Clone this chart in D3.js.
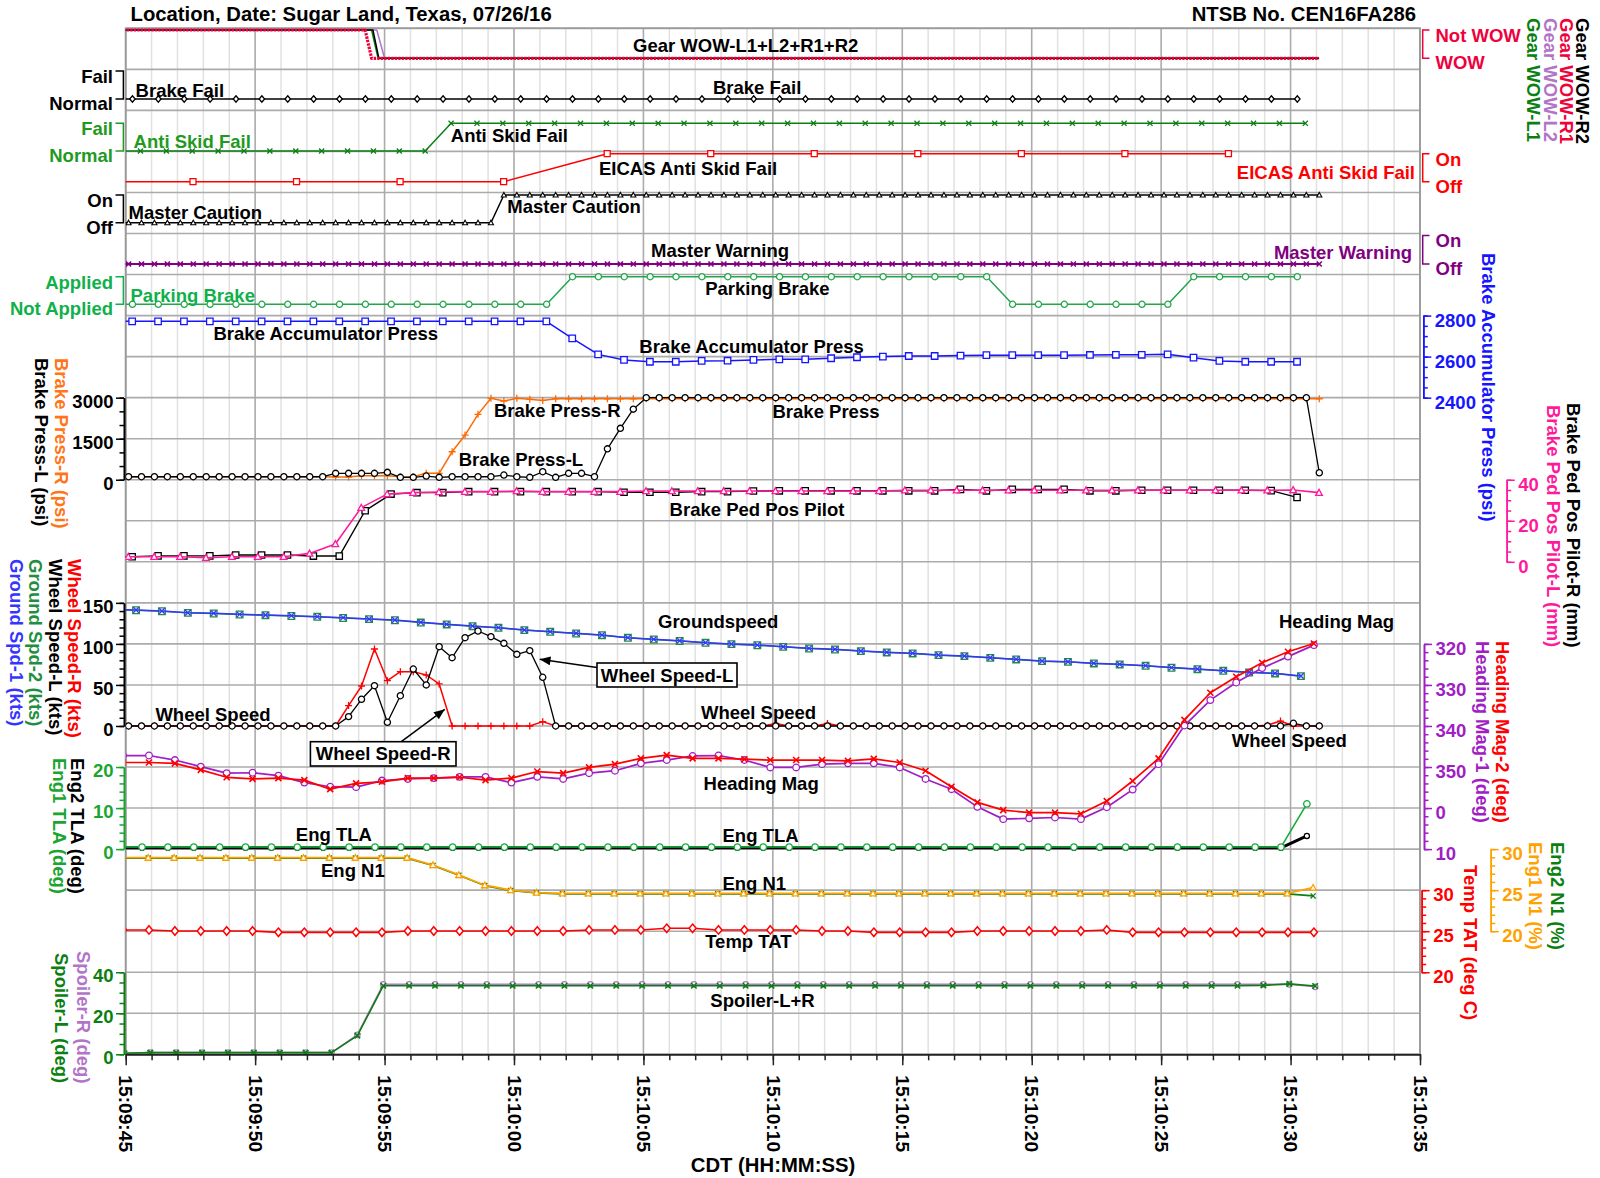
<!DOCTYPE html>
<html>
<head>
<meta charset="utf-8">
<script src="https://cdn.jsdelivr.net/npm/d3@7"></script>
<style>
  html, body { margin: 0; padding: 0; background: #fff; }
  svg { display: block; font-family: "Liberation Sans", Arial, sans-serif; font-weight: bold; font-size: 18.5px; }
</style>
</head>
<body>
<svg id="chart" width="1600" height="1178"></svg>
<script>
// ------------------------------------------------------------------
// Recorded parameters. Times are seconds after 15:09:45 CDT.
// Each sampled series: first sample time, sample interval, values.
// ------------------------------------------------------------------

// Gear weight-on-wheels (1 = Not WOW, 0 = WOW), change points [t, value]
const gearWowL1 = [[-0.5, 1], [9.5, 1], [9.75, 0], [46.1, 0]];
const gearWowL2 = [[-0.5, 1], [9.7, 1], [10.0, 0], [46.1, 0]];
const gearWowR1 = [[-0.5, 1], [9.25, 1], [9.5, 0], [46.1, 0]];
const gearWowR2 = [[-0.5, 1], [9.55, 1], [9.78, 0], [46.1, 0]];

// Brake Fail (1 = Fail), 1 Hz
const brakeFailStart = -0.74;
const brakeFail = [0,0,0,0,0,0,0,0,0,0, 0,0,0,0,0,0,0,0,0,0, 0,0,0,0,0,0,0,0,0,0,
                   0,0,0,0,0,0,0,0,0,0, 0,0,0,0,0,0,0];

// Anti Skid Fail (1 = Fail), 1 Hz
const antiSkidStart = -0.43;
const antiSkidFail = [0,0,0,0,0,0,0,0,0,0, 0,0,0,1,1,1,1,1,1,1, 1,1,1,1,1,1,1,1,1,1,
                      1,1,1,1,1,1,1,1,1,1, 1,1,1,1,1,1,1];

// EICAS Anti Skid Fail (1 = On), every 4 s
const eicasStart = -1.4;
const eicasAntiSkidFail = [0,0,0,0,0,1,1,1,1,1,1,1];

// Master Caution (1 = On), 2 Hz
const cautionStart = -0.39;
const masterCaution = [0,0,0,0,0,0,0,0,0,0, 0,0,0,0,0,0,0,0,0,0, 0,0,0,0,0,0,0,0,0,0,
                       1,1,1,1,1,1,1,1,1,1, 1,1,1,1,1,1,1,1,1,1, 1,1,1,1,1,1,1,1,1,1,
                       1,1,1,1,1,1,1,1,1,1, 1,1,1,1,1,1,1,1,1,1, 1,1,1,1,1,1,1,1,1,1,
                       1,1,1,1];

// Master Warning (1 = On), 2 Hz
const warningStart = -0.39;
const masterWarning = [0,0,0,0,0,0,0,0,0,0, 0,0,0,0,0,0,0,0,0,0, 0,0,0,0,0,0,0,0,0,0,
                       0,0,0,0,0,0,0,0,0,0, 0,0,0,0,0,0,0,0,0,0, 0,0,0,0,0,0,0,0,0,0,
                       0,0,0,0,0,0,0,0,0,0, 0,0,0,0,0,0,0,0,0,0, 0,0,0,0,0,0,0,0,0,0,
                       0,0,0,0];

// Parking Brake (1 = Applied), 1 Hz
const parkingStart = -0.74;
const parkingBrake = [0,0,0,0,0,0,0,0,0,0, 0,0,0,0,0,0,0,0,1,1, 1,1,1,1,1,1,1,1,1,1,
                      1,1,1,1,1,0,0,0,0,0, 0,0,1,1,1,1,1];

// Brake Accumulator Press (psi), 1 Hz
const accumStart = -0.75;
const brakeAccumPress = [2772,2772,2772,2772,2772,2772,2772,2772,2772,2772,
                         2772,2772,2772,2772,2772,2772,2772,2772,2689,2611,
                         2584,2575,2575,2579,2580,2584,2587,2587,2592,2597,
                         2600,2603,2603,2605,2607,2607,2607,2607,2608,2609,
                         2609,2611,2595,2579,2575,2575,2575];

// Brake Press L / R (psi), 2 Hz
const brakePressStart = -0.39;
const brakePressL = [110,110,110,110,110,110,110,110,110,110,
                     110,110,110,110,110,110,110,234,234,234,
                     234,270,88,88,135,88,110,110,110,110,
                     172,110,88,293,88,234,234,110,1130,1878,
                     2580,3000,3000,3000,3000,3000,3000,3000,3000,3000,
                     3000,3000,3000,3000,3000,3000,3000,3000,3000,3000,
                     3000,3000,3000,3000,3000,3000,3000,3000,3000,3000,
                     3000,3000,3000,3000,3000,3000,3000,3000,3000,3000,
                     3000,3000,3000,3000,3000,3000,3000,3000,3000,3000,
                     3000,3000,3000,256];
const brakePressR = [110,110,110,110,110,110,110,110,110,110,
                     110,110,110,110,110,110,110,100,100,150,
                     150,150,110,110,234,234,1023,1634,2390,2975,
                     2876,2975,2940,2900,2960,2960,2960,2960,2960,2960,
                     2960,2960,2960,2960,2960,2960,2960,2960,2960,2960,
                     2960,2960,2960,2960,2960,2960,2960,2960,2960,2960,
                     2960,2960,2960,2960,2960,2960,2960,2960,2960,2960,
                     2960,2960,2960,2960,2960,2960,2960,2960,2960,2960,
                     2960,2960,2960,2960,2960,2960,2960,2960,2960,2960,
                     2960,2960,2960,2960];

// Brake Pedal Position Pilot R / L (mm), 1 Hz
const pedRStart = -0.75;
const brakePedPilotR = [2.5,2.5,2.9,2.9,2.9,3.3,3.3,3.3,2.8,2.8,
                        24.9,33.0,33.7,33.7,34.2,34.2,34.2,34.2,34.2,34.2,
                        33.9,33.9,33.9,34.2,34.2,34.5,34.6,34.6,34.6,34.6,
                        34.6,34.6,34.6,35.3,34.6,35.3,35.3,35.3,34.6,34.6,
                        34.9,34.9,34.9,34.9,34.9,34.7,31.4];
const pedLStart = -0.9;
const brakePedPilotL = [2.5,2.5,2.5,2.5,2.0,2.5,2.5,2.5,4.1,8.7,
                        26.4,33.0,33.7,34.0,34.2,34.2,34.5,34.2,34.2,34.2,
                        34.2,34.5,34.5,34.5,34.5,34.5,34.5,34.5,34.5,34.5,
                        34.5,34.9,34.9,34.9,34.9,34.9,34.9,34.9,34.9,34.9,
                        34.9,34.9,34.9,34.9,34.9,34.9,35.0,33.7];

// Ground speed 1 / 2 (kts), 1 Hz
const groundStart = -0.6;
const groundSpd1 = [142.3,141.3,140.1,138.0,137.3,136.0,135.2,134.4,133.2,132.0,
                    130.4,129.1,126.3,123.9,121.8,119.8,117.0,114.9,112.9,110.9,
                    107.6,105.6,103.9,101.5,99.9,98.7,96.6,94.6,93.4,91.4,
                    89.8,88.6,86.5,85.3,83.2,81.3,79.2,78.3,76.4,75.2,
                    73.5,71.1,69.4,67.4,65.4,64.2,60.9];
const groundSpd2 = [142.0,141.0,139.8,137.8,137.0,135.8,135.0,134.0,133.0,131.6,
                    130.2,128.8,126.0,123.7,121.6,119.6,116.8,114.7,112.7,110.6,
                    107.4,105.4,103.6,101.3,99.7,98.4,96.4,94.4,93.2,91.2,
                    89.6,88.4,86.3,85.1,83.0,81.1,79.0,78.1,76.2,75.0,
                    73.3,70.9,69.2,67.2,65.2,64.0,60.7];

// Wheel speed L / R (kts), 2 Hz
const wheelStart = -0.39;
const wheelSpeedL = [0,0,0,0,0,0,0,0,0,0,
                     0,0,0,0,0,0,0,0,11.4,32.5,
                     49.1,4.5,36.9,69.4,50.0,96.6,83.2,107.6,115.7,108.8,
                     100.7,87.3,91.8,59.3,0,0,0,0,0,0,
                     0,0,0,0,0,0,0,0,0,0, 0,0,0,0,0,0,0,0,0,0,
                     0,0,0,0,0,0,0,0,0,0, 0,0,0,0,0,0,0,0,0,0,
                     0,0,0,0,0,0,0,0,0,0,
                     0,3.3,0,0];
const wheelSpeedR = [0,0,0,0,0,0,0,0,0,0,
                     0,0,0,0,0,0,0,0,24.8,48.7,
                     93.8,55.2,66.2,66.2,62.1,51.2,0,0,0,0,
                     0,0,0,5.3,0,0,0,0,0,0,
                     0,0,0,0,0,0,0,0,0,0,
                     0,3.0,0,0,0,3.0,0,0,0,0,
                     0,0,0,0,0,0,0,0,0,0,
                     0,0,0,0,0,0,0,0,0,0,
                     0,0,0,0,0,0,0,0,0,1.0,
                     6.0,0,0,0];

// Magnetic heading 1 / 2 (deg), 1 Hz
const headingStart = -0.1;
const headingMag1 = [347.2,347.2,348.3,349.9,351.5,351.4,352.1,353.8,354.8,354.9,
                     353.3,352.9,352.7,352.4,352.4,353.8,352.4,352.9,351.5,350.9,
                     349.1,348.3,347.3,347.2,348.3,350.1,350.1,349.3,349.1,349.1,
                     350.1,352.9,355.4,359.7,2.7,2.5,2.3,2.7,359.8,355.5,
                     349.3,339.9,333.7,329.4,325.9,323.1,320.3];
const headingMag2 = [348.9,348.9,349.1,350.7,352.5,352.9,352.7,353.2,355.4,354.0,
                     353.6,352.7,352.7,352.5,353.2,352.7,351.1,351.5,350.1,349.3,
                     347.9,347.1,347.9,347.9,348.1,348.3,348.3,348.3,348.5,348.0,
                     348.9,350.9,354.8,358.6,0.5,1.1,1.1,1.4,358.3,353.4,
                     347.9,338.5,331.9,328.0,324.6,321.9,319.9];

// Engine throttle lever angle (deg), 1 Hz
const tlaStart = -0.37;
const eng1TLA = [0.5,0.5,0.5,0.5,0.5,0.5,0.5,0.5,0.5,0.5, 0.5,0.5,0.5,0.5,0.5,0.5,0.5,0.5,0.5,0.5,
                 0.5,0.5,0.5,0.5,0.5,0.5,0.5,0.5,0.5,0.5, 0.5,0.5,0.5,0.5,0.5,0.5,0.5,0.5,0.5,0.5,
                 0.5,0.5,0.5,0.5,0.5,0.5,11.0];
const eng2TLA = [0.3,0.3,0.3,0.3,0.3,0.3,0.3,0.3,0.3,0.3, 0.3,0.3,0.3,0.3,0.3,0.3,0.3,0.3,0.3,0.3,
                 0.3,0.3,0.3,0.3,0.3,0.3,0.3,0.3,0.3,0.3, 0.3,0.3,0.3,0.3,0.3,0.3,0.3,0.3,0.3,0.3,
                 0.3,0.3,0.3,0.3,0.3,0.3,3.2];

// Engine N1 (%), 1 Hz
const n1Start = -0.13;
const eng1N1 = [28.95,28.95,28.95,28.95,28.95,28.95,28.95,28.95,28.95,28.95,
                28.95,28.95,28.06,26.85,25.6,25.0,24.7,24.6,24.6,24.6,
                24.6,24.6,24.6,24.6,24.6,24.6,24.6,24.6,24.6,24.6,
                24.6,24.6,24.6,24.6,24.6,24.6,24.6,24.6,24.6,24.6,
                24.6,24.6,24.6,24.6,24.6,24.6,25.3];
const eng2N1 = [28.9,28.9,28.9,28.9,28.9,28.9,28.9,28.9,28.9,28.9,
                28.9,28.9,28.0,26.8,25.55,24.95,24.65,24.55,24.55,24.55,
                24.55,24.55,24.55,24.55,24.55,24.55,24.55,24.55,24.55,24.55,
                24.55,24.55,24.55,24.55,24.55,24.55,24.55,24.55,24.55,24.55,
                24.55,24.55,24.55,24.55,24.55,24.55,24.3];

// Total air temperature (deg C), 1 Hz
const tatStart = -0.1;
const tempTAT = [25.15,25.15,25.02,25.02,25.02,25.02,24.86,24.86,24.86,24.86,
                 24.86,25.02,25.02,25.02,25.02,25.02,25.02,25.02,25.15,25.15,
                 25.15,25.35,25.35,25.15,25.15,25.15,25.15,25.02,25.02,24.86,
                 24.86,24.86,24.86,25.02,25.02,25.02,25.02,25.02,25.15,24.86,
                 24.86,24.86,24.86,24.86,24.86,24.86,24.86];

// Spoiler L / R (deg), 1 Hz
const spoilerStart = -0.05;
const spoilerL = [0.5,0.8,0.8,0.8,0.8,0.8,0.8,0.8,0.8,9.1,
                  33.4,33.4,33.4,33.4,33.4,33.4,33.4,33.4,33.4,33.4,
                  33.4,33.4,33.4,33.4,33.4,33.4,33.4,33.4,33.4,33.4,
                  33.4,33.4,33.4,33.4,33.4,33.4,33.4,33.4,33.4,33.4,
                  33.4,33.4,33.4,33.4,33.6,34.3,33.3];
const spoilerR = [0.5,0.8,0.8,0.8,0.8,0.8,0.8,0.8,0.8,9.5,
                  34.1,34.1,34.1,34.1,34.1,34.1,34.1,34.1,34.1,34.1,
                  34.1,34.1,34.1,34.1,34.1,34.1,34.1,34.1,34.1,34.1,
                  34.1,34.1,34.1,34.1,34.1,34.1,34.1,34.1,34.1,34.1,
                  34.1,34.1,34.1,34.1,34.1,34.1,32.9];

// Axis tick values
const brakePressTicks = [0, 1500, 3000];
const accumTicks = [2400, 2600, 2800];
const pedTicks = [0, 20, 40];
const speedTicks = [0, 50, 100, 150];
const headingTicks = [320, 330, 340, 350, 360, 370];
const tlaTicks = [0, 10, 20];
const n1Ticks = [20, 25, 30];
const tatTicks = [20, 25, 30];
const spoilerTicks = [0, 20, 40];

// ------------------------------------------------------------------
// Layout
// ------------------------------------------------------------------
const svg = d3.select("#chart");
const plotL = 125.7, plotR = 1420, plotT = 28.3, rowH = 41.04, nRows = 25;
const plotB = plotT + rowH * nRows;
const row = i => plotT + i * rowH;

const tStart = new Date(2016, 6, 26, 15, 9, 45);
const tEnd = new Date(2016, 6, 26, 15, 10, 35);
const x = d3.scaleTime().domain([tStart, tEnd]).range([plotL, plotR]);
const toDate = s => new Date(tStart.getTime() + s * 1000);
const xs = s => x(toDate(s));

const sampled = (start, step, values) => values.map((v, i) => ({ t: start + i * step, v }));
const points = pairs => pairs.map(([t, v]) => ({ t, v }));

// Vertical scales for each strip
const yWow = d3.scaleLinear([0, 1], [58.3, 30]);
const yBrakeFail = d3.scaleLinear([0, 1], [99, 71]);
const yAntiSkid = d3.scaleLinear([0, 1], [151, 123.3]);
const yEicas = d3.scaleLinear([0, 1], [181.7, 153.7]);
const yCaution = d3.scaleLinear([0, 1], [222.7, 195]);
const yWarning = d3.scaleLinear([0, 1], [264, 235.5]);
const yParking = d3.scaleLinear([0, 1], [304.3, 276.7]);
const yBrakePress = d3.scaleLinear([0, 3000], [row(11), row(9)]);
const yAccum = d3.scaleLinear([2400, 2800], [row(9), row(7)]);
const yPed = d3.scaleLinear([0, 40], [row(13), row(11)]);
const ySpeed = d3.scaleLinear([0, 150], [row(17), row(14)]);
const yHeadingLin = d3.scaleLinear([320, 370], [row(15), row(20)]);
const yHeading = h => yHeadingLin(h < 180 ? h + 360 : h);
const yTLA = d3.scaleLinear([0, 20], [row(20), row(18)]);
const yN1 = d3.scaleLinear([20, 30], [row(22), row(20)]);
const yTAT = d3.scaleLinear([20, 30], [row(23), row(21)]);
const ySpoiler = d3.scaleLinear([0, 40], [row(25), row(23)]);

// Colours
const C = {
  black: "#000", red: "#ff0000", crimson: "#f0003c", lavender: "#b274c8",
  green: "#0b7f12", brightGreen: "#14ad3c", parkGreen: "#24a64c",
  purple: "#800080", blue: "#1515ff", blue2: "#3535ff", orange: "#ff6a00",
  pink: "#ff1a9c", violet: "#a01ec4", amber: "#ffa200", lightGreen: "#1aa530",
  gndGreen: "#1f8f3f"
};

// ------------------------------------------------------------------
// Grid
// ------------------------------------------------------------------
const grid = svg.append("g");
const secTicks = x.ticks(d3.timeSecond.every(1));
const isMajor = d => d.getSeconds() % 5 === 0;
grid.selectAll("line.vmin").data(secTicks.filter(d => !isMajor(d))).join("line")
  .attr("x1", d => x(d)).attr("x2", d => x(d)).attr("y1", plotT).attr("y2", plotB)
  .attr("stroke", "#e1e1e1").attr("stroke-width", 1.5);
grid.selectAll("line.hrow").data(d3.range(0, nRows + 1)).join("line")
  .attr("x1", plotL).attr("x2", plotR).attr("y1", d => row(d)).attr("y2", d => row(d))
  .attr("stroke", "#ababab").attr("stroke-width", 1.6);
grid.selectAll("line.vmaj").data(secTicks.filter(isMajor)).join("line")
  .attr("x1", d => x(d)).attr("x2", d => x(d)).attr("y1", plotT).attr("y2", plotB)
  .attr("stroke", "#ababab").attr("stroke-width", 1.6);
grid.append("rect").attr("x", plotL).attr("y", plotT).attr("width", plotR - plotL).attr("height", plotB - plotT)
  .attr("fill", "none").attr("stroke", "#9a9a9a").attr("stroke-width", 1.8);

svg.append("defs").append("clipPath").attr("id", "plotClip")
  .append("rect").attr("x", plotL).attr("y", plotT - 4).attr("width", plotR - plotL).attr("height", plotB - plotT + 4);

// ------------------------------------------------------------------
// Marker shapes (size = (2r)^2)
// ------------------------------------------------------------------
const sym = {
  circle:   { draw(c, s) { const r = Math.sqrt(s) / 2; c.moveTo(r, 0); c.arc(0, 0, r, 0, 2 * Math.PI); } },
  square:   { draw(c, s) { const r = Math.sqrt(s) / 2; c.rect(-r, -r, 2 * r, 2 * r); } },
  triangle: { draw(c, s) { const r = Math.sqrt(s) / 2; c.moveTo(0, -r); c.lineTo(r, r * 0.8); c.lineTo(-r, r * 0.8); c.closePath(); } },
  diamond:  { draw(c, s) { const r = Math.sqrt(s) / 2; c.moveTo(0, -r * 1.2); c.lineTo(r, 0); c.lineTo(0, r * 1.2); c.lineTo(-r, 0); c.closePath(); } },
  cross:    { stroked: true, draw(c, s) { const r = Math.sqrt(s) / 2; c.moveTo(-r, -r); c.lineTo(r, r); c.moveTo(r, -r); c.lineTo(-r, r); } },
  plus:     { stroked: true, draw(c, s) { const r = Math.sqrt(s) / 2; c.moveTo(-r, 0); c.lineTo(r, 0); c.moveTo(0, -r); c.lineTo(0, r); } }
};

const plotArea = svg.append("g").attr("clip-path", "url(#plotClip)");

function drawSeries({ data, y, color, width = 1.5, symbol, size = 40, markerColor, dash, markerWidth = 1.3 }) {
  const g = plotArea.append("g");
  const line = d3.line().x(d => xs(d.t)).y(d => y(d.v));
  g.append("path").attr("d", line(data)).attr("fill", "none")
    .attr("stroke", color).attr("stroke-width", width)
    .attr("stroke-linejoin", "round").attr("stroke-dasharray", dash || null);
  if (symbol) {
    g.selectAll("path.mk").data(data).join("path").attr("class", "mk")
      .attr("transform", d => `translate(${xs(d.t)},${y(d.v)})`)
      .attr("d", d3.symbol().type(symbol).size(size))
      .attr("fill", symbol.stroked ? "none" : "#fff")
      .attr("stroke", markerColor || color).attr("stroke-width", markerWidth);
  }
}

// Gear WOW
drawSeries({ data: points(gearWowL1), y: yWow, color: C.green, width: 1.5 });
drawSeries({ data: points(gearWowL2), y: yWow, color: C.lavender, width: 1.5 });
drawSeries({ data: points(gearWowR2), y: yWow, color: C.black, width: 1.5 });
drawSeries({ data: points(gearWowR1), y: yWow, color: C.crimson, width: 3.2, dash: "2.4 1.1" });

// Discrete warnings
drawSeries({ data: sampled(brakeFailStart, 1, brakeFail), y: yBrakeFail, color: C.black, symbol: sym.diamond, size: 30 });
drawSeries({ data: sampled(antiSkidStart, 1, antiSkidFail), y: yAntiSkid, color: C.green, symbol: sym.cross, size: 26 });
drawSeries({ data: sampled(eicasStart, 4, eicasAntiSkidFail), y: yEicas, color: C.red, symbol: sym.square, size: 36 });
drawSeries({ data: sampled(cautionStart, 0.5, masterCaution), y: yCaution, color: C.black, symbol: sym.triangle, size: 26, markerWidth: 1.1 });
drawSeries({ data: sampled(warningStart, 0.5, masterWarning), y: yWarning, color: C.purple, width: 2, symbol: sym.cross, size: 26, markerWidth: 1.6 });
drawSeries({ data: sampled(parkingStart, 1, parkingBrake), y: yParking, color: C.parkGreen, symbol: sym.circle, size: 38 });

// Brake accumulator & brake pressures
drawSeries({ data: sampled(accumStart, 1, brakeAccumPress), y: yAccum, color: C.blue, symbol: sym.square, size: 42 });
drawSeries({ data: sampled(brakePressStart, 0.5, brakePressR), y: yBrakePress, color: C.orange, symbol: sym.plus, size: 49 });
drawSeries({ data: sampled(brakePressStart, 0.5, brakePressL), y: yBrakePress, color: C.black, width: 1.3, symbol: sym.circle, size: 38 });

// Brake pedal positions
drawSeries({ data: sampled(pedRStart, 1, brakePedPilotR), y: yPed, color: C.black, width: 1.4, symbol: sym.square, size: 40 });
drawSeries({ data: sampled(pedLStart, 1, brakePedPilotL), y: yPed, color: C.pink, width: 1.6, symbol: sym.triangle, size: 44 });

// Ground speeds and wheel speeds
drawSeries({ data: sampled(groundStart, 1, groundSpd2), y: ySpeed, color: C.gndGreen, symbol: sym.square, size: 44 });
drawSeries({ data: sampled(groundStart, 1, groundSpd1), y: ySpeed, color: C.blue2, symbol: sym.cross, size: 30 });
drawSeries({ data: sampled(wheelStart, 0.5, wheelSpeedR), y: ySpeed, color: C.red, symbol: sym.plus, size: 49 });
drawSeries({ data: sampled(wheelStart, 0.5, wheelSpeedL), y: ySpeed, color: C.black, width: 1.3, symbol: sym.circle, size: 38 });

// Heading
drawSeries({ data: sampled(headingStart, 1, headingMag1), y: yHeading, color: C.violet, width: 1.7, symbol: sym.circle, size: 44 });
drawSeries({ data: sampled(headingStart, 1, headingMag2), y: yHeading, color: C.red, width: 1.7, symbol: sym.cross, size: 36, markerWidth: 1.6 });

// Throttle lever angle
drawSeries({ data: sampled(tlaStart, 1, eng2TLA), y: yTLA, color: C.black, width: 3, symbol: sym.circle, size: 26 });
drawSeries({ data: sampled(tlaStart, 1, eng1TLA), y: yTLA, color: C.brightGreen, width: 1.6, symbol: sym.circle, size: 42 });

// N1
drawSeries({ data: sampled(n1Start, 1, eng2N1), y: yN1, color: C.green, width: 1.6, symbol: sym.cross, size: 26 });
drawSeries({ data: sampled(n1Start, 1, eng1N1), y: yN1, color: C.amber, width: 1.8, symbol: sym.triangle, size: 40 });

// Temperature
drawSeries({ data: sampled(tatStart, 1, tempTAT), y: yTAT, color: C.red, width: 1.6, symbol: sym.diamond, size: 50, markerWidth: 1.5 });

// Spoilers
drawSeries({ data: sampled(spoilerStart, 1, spoilerR), y: ySpoiler, color: C.lavender, width: 1.6, symbol: sym.circle, size: 30 });
drawSeries({ data: sampled(spoilerStart, 1, spoilerL), y: ySpoiler, color: C.green, width: 1.6, symbol: sym.cross, size: 30, markerWidth: 1.6 });

// ------------------------------------------------------------------
// Axes
// ------------------------------------------------------------------
function styleAxis(g, color) {
  g.attr("font-family", null).attr("font-size", null);
  g.select(".domain").attr("stroke", color).attr("stroke-width", 1.6);
  g.selectAll(".tick line").attr("stroke", color).attr("stroke-width", 1.5);
}
function numericAxis(side, scale, x0, majors, minorStep, color, fmt = d => d) {
  const [lo, hi] = d3.extent(majors);
  const minors = d3.range(lo, hi + minorStep / 2, minorStep);
  const make = side === "left" ? d3.axisLeft : d3.axisRight;
  const gMin = svg.append("g").attr("transform", `translate(${x0},0)`)
    .call(make(scale).tickValues(minors).tickSize(4.5).tickSizeOuter(0).tickFormat(""));
  styleAxis(gMin, color);
  const gMaj = svg.append("g").attr("transform", `translate(${x0},0)`)
    .call(make(scale).tickValues(majors).tickSize(8).tickSizeOuter(0).tickFormat(""));
  styleAxis(gMaj, color);
  svg.append("g").selectAll("text").data(majors).join("text")
    .attr("x", side === "left" ? x0 - 10.5 : x0 + 11.5)
    .attr("y", d => scale(d) + (side === "left" ? 10 : 11))
    .attr("text-anchor", side === "left" ? "end" : "start")
    .attr("fill", color).text(fmt);
}
numericAxis("left", yBrakePress, 124, brakePressTicks, 500, C.black);
numericAxis("left", ySpeed, 124, speedTicks, 10, C.black);
numericAxis("left", yTLA, 124, tlaTicks, 2, C.lightGreen);
numericAxis("left", ySpoiler, 124, spoilerTicks, 5, C.green);
numericAxis("right", yAccum, 1423.3, accumTicks, 50, C.blue);
numericAxis("right", yPed, 1506.7, pedTicks, 5, C.pink);
numericAxis("right", yHeadingLin, 1424, headingTicks, 2, C.violet, d => d % 360);
numericAxis("right", yN1, 1490.7, n1Ticks, 1, C.amber);
numericAxis("right", yTAT, 1421.7, tatTicks, 1, C.red);

// Discrete state brackets
function stateBracket(side, scale, onText, offText, color) {
  const yOn = scale(1), yOff = scale(0);
  const xa = side === "left" ? 123.4 : 1422.7;
  const xb = side === "left" ? 115.5 : 1429.5;
  svg.append("path").attr("d", `M${xb},${yOn}H${xa}V${yOff}H${xb}`)
    .attr("fill", "none").attr("stroke", color).attr("stroke-width", 1.5);
  const tx = side === "left" ? 113 : 1435.5;
  const anchor = side === "left" ? "end" : "start";
  svg.append("text").attr("x", tx).attr("y", yOn + 11.8).attr("text-anchor", anchor).attr("fill", color).text(onText);
  svg.append("text").attr("x", tx).attr("y", yOff + 10.8).attr("text-anchor", anchor).attr("fill", color).text(offText);
}
stateBracket("left", yBrakeFail, "Fail", "Normal", C.black);
stateBracket("left", yAntiSkid, "Fail", "Normal", "#1f9a1f");
stateBracket("left", yCaution, "On", "Off", C.black);
stateBracket("left", yParking, "Applied", "Not Applied", "#10b04a");
stateBracket("right", yWow, "Not WOW", "WOW", C.crimson);
stateBracket("right", yEicas, "On", "Off", C.red);
stateBracket("right", yWarning, "On", "Off", C.purple);

// Time axis
const gxMin = svg.append("g").attr("transform", `translate(0,${plotB})`)
  .call(d3.axisBottom(x).ticks(d3.timeSecond.every(1)).tickSize(6).tickSizeOuter(0).tickFormat(""));
styleAxis(gxMin, "#222");
const gxMaj = svg.append("g").attr("transform", `translate(0,${plotB})`)
  .call(d3.axisBottom(x).ticks(d3.timeSecond.every(5)).tickSize(11).tickSizeOuter(0).tickFormat(d3.timeFormat("%H:%M:%S")));
styleAxis(gxMaj, "#222");
gxMaj.selectAll(".tick text")
  .attr("transform", "rotate(90)").attr("x", 21).attr("y", 0).attr("dy", "0.35em")
  .attr("text-anchor", "start").attr("fill", C.black).style("font-size", "19.2px");
svg.append("text").attr("x", 773).attr("y", 1172).attr("text-anchor", "middle")
  .style("font-size", "20.3px").text("CDT (HH:MM:SS)");

// ------------------------------------------------------------------
// Titles and rotated axis titles
// ------------------------------------------------------------------
svg.append("text").attr("x", 130.5).attr("y", 20.7).style("font-size", "20.3px")
  .text("Location, Date: Sugar Land, Texas, 07/26/16");
svg.append("text").attr("x", 1416).attr("y", 20.7).attr("text-anchor", "end").style("font-size", "20.3px")
  .text("NTSB No. CEN16FA286");

const vTitles = [
  ["Gear WOW-R2", 1582, 18, C.black],
  ["Gear WOW-R1", 1566, 18, C.crimson],
  ["Gear WOW-L2", 1550, 18, C.lavender],
  ["Gear WOW-L1", 1533, 18, C.green],
  ["Brake Accumulator Press (psi)", 1488, 253, C.blue],
  ["Brake Ped Pos Pilot-R (mm)", 1573, 403, C.black],
  ["Brake Ped Pos Pilot-L (mm)", 1553, 405, C.pink],
  ["Heading Mag-2 (deg)", 1502, 641, C.red],
  ["Heading Mag-1 (deg)", 1482, 641, C.violet],
  ["Eng2 N1 (%)", 1557, 842, C.green],
  ["Eng1 N1 (%)", 1535, 842, C.amber],
  ["Temp TAT (deg C)", 1470, 865, C.red],
  ["Brake Press-R (psi)", 61.3, 358, "#ff7518"],
  ["Brake Press-L (psi)", 41.5, 358, C.black],
  ["Wheel Speed-R (kts)", 74, 559, C.red],
  ["Wheel Speed-L (kts)", 55, 559, C.black],
  ["Ground Spd-2 (kts)", 35, 559, C.gndGreen],
  ["Ground Spd-1 (kts)", 16, 559, C.blue2],
  ["Eng2 TLA (deg)", 77, 758, C.black],
  ["Eng1 TLA (deg)", 59.3, 758, C.lightGreen],
  ["Spoiler-R (deg)", 83, 951, C.lavender],
  ["Spoiler-L (deg)", 61.3, 953, C.green]
];
svg.append("g").selectAll("text").data(vTitles).join("text")
  .attr("transform", d => `translate(${d[1]},${d[2]}) rotate(90)`)
  .attr("dy", "0.35em").attr("fill", d => d[3]).text(d => d[0]);

// ------------------------------------------------------------------
// In-plot parameter labels [text, x, baseline, colour, anchor]
// ------------------------------------------------------------------
const plotLabels = [
  ["Gear WOW-L1+L2+R1+R2", 633, 51.5, C.black, "start"],
  ["Brake Fail", 135.6, 96.5, C.black, "start"],
  ["Brake Fail", 712.9, 93.8, C.black, "start"],
  ["Anti Skid Fail", 133.6, 148, "#1f9a1f", "start"],
  ["Anti Skid Fail", 450.8, 141.5, C.black, "start"],
  ["EICAS Anti Skid Fail", 599, 174.8, C.black, "start"],
  ["EICAS Anti Skid Fail", 1415, 178.8, C.red, "end"],
  ["Master Caution", 128.5, 218.8, C.black, "start"],
  ["Master Caution", 507.3, 213.2, C.black, "start"],
  ["Master Warning", 651, 257.2, C.black, "start"],
  ["Master Warning", 1412, 258.8, C.purple, "end"],
  ["Parking Brake", 130.5, 302.2, "#10b04a", "start"],
  ["Parking Brake", 705.2, 294.8, C.black, "start"],
  ["Brake Accumulator Press", 213.5, 339.8, C.black, "start"],
  ["Brake Accumulator Press", 639.3, 352.5, C.black, "start"],
  ["Brake Press-R", 494, 416.7, C.black, "start"],
  ["Brake Press-L", 458.7, 466, C.black, "start"],
  ["Brake Press", 772.5, 418.3, C.black, "start"],
  ["Brake Ped Pos Pilot", 669.6, 515.7, C.black, "start"],
  ["Groundspeed", 658, 628.3, C.black, "start"],
  ["Heading Mag", 1279, 628.3, C.black, "start"],
  ["Wheel Speed", 155.4, 720.7, C.black, "start"],
  ["Wheel Speed", 701, 719, C.black, "start"],
  ["Wheel Speed", 1231.7, 747.3, C.black, "start"],
  ["Heading Mag", 703.6, 790, C.black, "start"],
  ["Eng TLA", 295.8, 840.7, C.black, "start"],
  ["Eng TLA", 722.5, 841.7, C.black, "start"],
  ["Eng N1", 321, 877.3, C.black, "start"],
  ["Eng N1", 722.4, 890, C.black, "start"],
  ["Temp TAT", 705.2, 948.3, C.black, "start"],
  ["Spoiler-L+R", 710.3, 1007.3, C.black, "start"]
];
svg.append("g").selectAll("text").data(plotLabels).join("text")
  .attr("x", d => d[1]).attr("y", d => d[2]).attr("fill", d => d[3])
  .attr("text-anchor", d => d[4]).text(d => d[0]);

// ------------------------------------------------------------------
// Boxed call-outs with arrows
// ------------------------------------------------------------------
svg.select("defs").append("marker").attr("id", "arrowHead")
  .attr("viewBox", "0 0 12 10").attr("refX", 12).attr("refY", 5)
  .attr("markerWidth", 12).attr("markerHeight", 9).attr("markerUnits", "userSpaceOnUse")
  .attr("orient", "auto").append("path").attr("d", "M0,0L12,5L0,10Z").attr("fill", "#000");

const callouts = [
  { text: "Wheel Speed-L", box: [597, 663, 140, 24], from: [597, 667.5], to: [539.7, 659.3] },
  { text: "Wheel Speed-R", box: [310.4, 741.7, 145.6, 24.3], from: [401.3, 741.7], to: [444.8, 709.3] }
];
callouts.forEach(c => {
  svg.append("line").attr("x1", c.from[0]).attr("y1", c.from[1]).attr("x2", c.to[0]).attr("y2", c.to[1])
    .attr("stroke", "#000").attr("stroke-width", 1.5).attr("marker-end", "url(#arrowHead)");
  svg.append("rect").attr("x", c.box[0]).attr("y", c.box[1]).attr("width", c.box[2]).attr("height", c.box[3])
    .attr("fill", "#fff").attr("stroke", "#000").attr("stroke-width", 1.6);
  svg.append("text").attr("x", c.box[0] + c.box[2] / 2).attr("y", c.box[1] + c.box[3] / 2 + 6.6)
    .attr("text-anchor", "middle").text(c.text);
});
</script>
</body>
</html>
